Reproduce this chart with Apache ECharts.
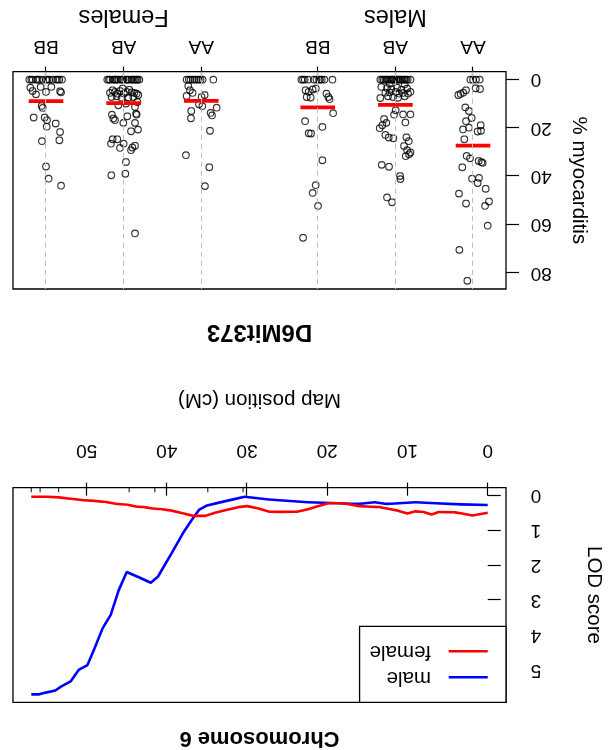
<!DOCTYPE html>
<html><head><meta charset="utf-8">
<script src="https://cdn.jsdelivr.net/npm/echarts@6/dist/echarts.min.js"></script>
<style>
html,body{margin:0;padding:0;background:#fff;overflow:hidden}
#chart{width:613px;height:750px;transform:rotate(180deg);transform-origin:50% 50%;}
</style></head><body><div id="chart"></div>
<script>
// ---------- DATA ----------
const genotypes = ['AA', 'AB', 'BB'];
const sexLabels = ['Males', 'Females'];

// % myocarditis per mouse, and horizontal jitter (in category units) as drawn
const malesAA = [0,0,0,0,3.6,3.9,6.4,5.9,5.4,4.4,11.5,13.0,15.9,17.2,18.9,19.9,20.6,21.5,21.2,24.7,31.6,32.6,33.7,34.2,34.5,36.3,41.0,40.7,42.8,45.2,47.2,51.3,50.5,52.3,60.5,70.5,83.3];
const malesAAJitter = [0.034,-0.086,0,-0.039,-0.034,-0.090,0.189,0.159,0.125,0.090,0.099,0.052,0.017,0.090,-0.099,0.052,0.129,-0.060,-0.103,0.112,0.082,0.039,-0.073,-0.108,-0.125,0.138,0.013,-0.077,-0.060,-0.163,0.181,0.090,-0.206,-0.155,-0.189,0.176,0.073];

const malesAB = [0,0,0,0,0,0,0,0,0,0,0,0,0,0,0,0,0,0,0,0,0,0,
  1.7,1.9,3.0,3.5,3.9,3.3,4.2,3.7,5.1,5.4,5.3,5.1,5.8,5.5,5.8,7.6,6.9,7.2,7.5,6.9,
  12.7,14.5,14.4,14.4,16.3,17.9,17.7,20.1,18.9,22.9,24.0,24.3,23.9,25.5,27.5,29.2,30.9,30.2,31.7,35.3,36.1,39.9,41.2,48.8,50.8];
const malesABJitter = [0.194,0.151,0.116,0.082,0.047,0.013,-0.022,-0.056,-0.090,-0.125,-0.159,-0.194,0.17,0.13,0.10,0.06,0.03,-0.01,-0.04,-0.07,-0.11,-0.14,
  0.073,-0.120,0.181,0.108,0.052,-0.022,-0.077,-0.151,-0.194,0.129,0.073,-0.004,-0.047,-0.099,-0.163,0.194,0.095,0.030,-0.034,-0.120,
  -0.004,0.017,-0.099,-0.194,0.146,0.116,-0.129,0.202,0.168,0.129,0.086,0.026,-0.142,-0.172,-0.112,-0.151,-0.176,-0.194,-0.133,0.176,0.082,-0.060,-0.065,0.108,0.043];

const malesBB = [0,0,0,0,0,0,0,0,0,0,0,
  4.4,5.1,4.1,3.7,7.2,7.4,5.8,7.2,8.1,
  13.9,17.2,19.6,22.2,22.3,33.4,43.7,46.9,52.3,65.5];
const malesBBJitter = [0.211,0.168,0.125,0.017,-0.017,-0.052,-0.086,-0.189,0.19,0.05,-0.03,
  0.157,0.117,0.066,0.025,0.142,0.091,-0.112,-0.137,-0.152,
  -0.198,0.163,-0.060,0.116,0.086,-0.060,0.026,0.065,-0.004,0.189];

const femalesAA = [0,0,0,0,0,0,0,0,0,0,
  2.6,4.4,5.5,6.8,6.4,7.2,10.2,11.0,
  11.6,13.0,13.8,14.8,16.0,21.2,31.3,36.3,44.1];
const femalesAAJitter = [0.189,0.138,0.086,0.034,-0.017,-0.155,0.16,0.11,0.06,0.01,
  0.168,0.146,0.112,0.189,-0.043,-0.004,0.030,-0.013,
  -0.198,0.129,-0.120,-0.138,0.133,-0.112,0.198,-0.103,-0.047];

const femalesAB = [0,0,0,0,0,0,0,0,0,0,0,0,0,0,0,0,0,0,0,0,0,
  5.5,4.4,5.1,5.8,4.7,3.7,5.8,5.1,4.2,5.3,5.5,5.8,6.4,7.2,6.9,7.5,7.5,7.2,9.3,10.6,9.9,11.3,
  14.5,16.1,16.8,15.2,14.1,14.5,17.9,17.9,21.4,20.7,24.7,24.7,26.5,28.3,26.5,29.2,28.1,27.4,34.1,39.0,39.6,63.7];
const femalesABJitter = [0.211,0.176,0.142,0.108,0.073,0.039,0.004,-0.030,-0.065,-0.099,-0.133,-0.168,-0.202,0.19,0.12,0.09,0.02,-0.05,-0.11,-0.15,-0.18,
  0.176,0.142,0.112,0.082,0.047,0.013,-0.004,-0.039,-0.073,-0.103,-0.138,-0.168,-0.189,0.155,0.090,0.026,-0.060,-0.125,-0.176,0.069,-0.030,-0.146,
  0.151,0.133,0.112,-0.047,-0.159,-0.168,0.004,-0.146,-0.095,-0.185,0.142,0.082,0.163,0.047,0,-0.095,-0.112,-0.146,-0.030,-0.022,0.159,-0.146];

const femalesBB = [0,0,0,0,0,0,0,0,0,0,0,0,0,0,0,
  3.3,4.7,6.1,3.0,5.1,3.0,4.8,5.3,10.9,11.7,
  15.7,15.7,16.8,19.5,18.2,21.7,25.1,25.5,36.0,41.0,43.9];
const femalesBBJitter = [0.215,0.172,0.129,0.086,0.043,0,-0.043,-0.086,-0.129,-0.172,-0.206,0.19,0.11,-0.02,-0.15,
  0.202,0.172,0.129,0.069,0,-0.069,-0.181,-0.194,0.056,0.043,
  0.159,0.017,-0.013,-0.009,-0.125,-0.181,-0.172,0.052,0,-0.034,-0.194];

// group means (red bars): Males AA, AB, BB, Females AA, AB, BB
const groupMeans = [27.3, 10.4, 11.5, 8.8, 9.7, 8.9];

// LOD curves, chromosome 6
const femalePos = [0,1.9,3.2,4.1,6.1,7.0,8.0,9.0,10.0,11.2,12.1,13.4,14.6,16.0,18.0,19.9,21.4,22.4,23.8,25.8,27.2,28.7,30.0,31.1,32.6,34.0,35.2,36.7,37.9,39.4,40.6,41.8,42.8,43.7,44.9,46.2,47.6,49.1,50.3,52.0,53.5,54.9,56.9];
const femaleLOD = [0.49,0.57,0.51,0.48,0.47,0.54,0.47,0.45,0.51,0.43,0.39,0.33,0.32,0.30,0.22,0.22,0.32,0.39,0.46,0.47,0.46,0.36,0.30,0.33,0.41,0.49,0.58,0.58,0.51,0.43,0.39,0.37,0.33,0.32,0.26,0.24,0.18,0.15,0.13,0.09,0.05,0.03,0.03];
const malePos = [0,3.4,6.5,9.0,12.6,14.1,16.2,18.6,22.4,27.3,30.3,31.6,33.5,35.1,36.0,36.9,38.0,39.4,41.1,42.0,43.5,45.0,46.0,47.0,48.0,49.1,49.9,51.0,52.0,53.2,53.9,55.1,55.9,56.9];
const maleLOD = [0.27,0.25,0.22,0.19,0.24,0.19,0.24,0.22,0.19,0.11,0.03,0.10,0.20,0.29,0.41,0.70,1.08,1.65,2.32,2.50,2.34,2.19,2.71,3.42,3.80,4.43,4.86,5.00,5.33,5.48,5.59,5.65,5.70,5.70];
const markerPos = [30.5, 34.9, 41.5, 44.7, 53.5, 55.8, 56.9];

const lodXTicks = [0, 10, 20, 30, 40, 50];
const lodYTicks = [0, 1, 2, 3, 4, 5];
const phenoYTicks = [0, 20, 40, 60, 80];

// ---------- BUILD ----------
const groupValues = [malesAA, malesAB, malesBB, femalesAA, femalesAB, femalesBB];
const groupJitter = [malesAAJitter, malesABJitter, malesBBJitter, femalesAAJitter, femalesABJitter, femalesBBJitter];
const slots = [1, 2, 3, 4.5, 5.5, 6.5];
const sexSlots = [2, 5.5];
const slotLabel = {};
slots.forEach((s, i) => slotLabel[s] = genotypes[i % 3]);
const sexLabel = {};
sexSlots.forEach((s, i) => sexLabel[s] = sexLabels[i]);

const pts = [];
groupValues.forEach((vals, g) => vals.forEach((v, i) => pts.push([slots[g] + groupJitter[g][i], v])));

const lodYMin = -0.228, lodYMax = 5.928;
const font = "'Liberation Sans', Arial, Helvetica, sans-serif";
const tickStyle = {color: '#000', width: 1.2};
const labelBase = {color: '#000', fontSize: 19, fontFamily: font};

const meanSeries = groupMeans.map((m, g) => ({
  type: 'line', xAxisIndex: 1, yAxisIndex: 1, symbol: 'none', silent: true, z: 4,
  lineStyle: {color: '#ff0000', width: 3.8},
  data: [[slots[g] - 0.223, m], [slots[g] + 0.223, m]]
}));

const chart = echarts.init(document.getElementById('chart'), null, {renderer: 'canvas'});
chart.setOption({
  animation: false,
  backgroundColor: '#fff',
  textStyle: {fontFamily: font},
  grid: [
    {left: 107, right: 13, top: 47.7, height: 214.6, show: true, borderColor: '#000', borderWidth: 1.3, backgroundColor: 'rgba(0,0,0,0)'},
    {left: 107, right: 13, top: 461, height: 217.3, show: true, borderColor: '#000', borderWidth: 1.3, backgroundColor: 'rgba(0,0,0,0)'}
  ],
  xAxis: [
    {gridIndex: 0, type: 'value', min: -2.28, max: 59.18, position: 'bottom',
      axisLine: {show: false}, splitLine: {show: false},
      axisTick: {show: true, length: 13, lineStyle: tickStyle, customValues: lodXTicks},
      axisLabel: Object.assign({customValues: lodXTicks, margin: 28}, labelBase),
      name: 'Map position (cM)', nameLocation: 'middle', nameGap: 78,
      nameTextStyle: {color: '#000', fontSize: 20.5, fontFamily: font}},
    {gridIndex: 1, type: 'value', min: 0.575, max: 6.925, position: 'bottom',
      axisLine: {show: false}, splitLine: {show: false},
      axisTick: {show: true, length: 13, lineStyle: tickStyle, customValues: slots},
      axisLabel: Object.assign({customValues: slots, margin: 16, formatter: v => slotLabel[v] || ''}, labelBase)},
    {gridIndex: 1, type: 'value', min: 0.575, max: 6.925, position: 'bottom',
      axisLine: {show: false}, splitLine: {show: false}, axisTick: {show: false},
      axisLabel: {customValues: sexSlots, margin: 43, color: '#000', fontSize: 23.5, fontFamily: font, formatter: v => sexLabel[v] || ''}}
  ],
  yAxis: [
    {gridIndex: 0, type: 'value', min: lodYMin, max: lodYMax, position: 'left',
      axisLine: {show: false}, splitLine: {show: false},
      axisTick: {show: true, length: 13, lineStyle: tickStyle, customValues: lodYTicks},
      axisLabel: Object.assign({customValues: lodYTicks, margin: 24.6}, labelBase),
      name: 'LOD score', nameLocation: 'middle', nameGap: 77,
      nameTextStyle: {color: '#000', fontSize: 20.5, fontFamily: font}},
    {gridIndex: 1, type: 'value', min: -3.3, max: 86.7, position: 'left',
      axisLine: {show: false}, splitLine: {show: false},
      axisTick: {show: true, length: 13, lineStyle: tickStyle, customValues: phenoYTicks},
      axisLabel: Object.assign({customValues: phenoYTicks, margin: 24.6}, labelBase),
      name: '% myocarditis', nameLocation: 'middle', nameGap: 62,
      nameTextStyle: {color: '#000', fontSize: 20.5, fontFamily: font}}
  ],
  legend: {
    data: [{name: 'male', icon: 'rect'}, {name: 'female', icon: 'rect'}],
    orient: 'vertical', left: 107, top: 47.7,
    padding: [14.6, 10, 14.4, 18.3], itemGap: 5, itemWidth: 39, itemHeight: 2.6,
    borderColor: '#000', borderWidth: 1.3, backgroundColor: '#fff',
    textStyle: {color: '#000', fontSize: 20.5, fontFamily: font, padding: [0, 0, 0, 12.6]}
  },
  graphic: [
    {type: 'text', x: 353.5, y: 12, style: {text: 'Chromosome 6', fill: '#000', fontSize: 22, fontWeight: 'bold', fontFamily: font, align: 'center', verticalAlign: 'middle'}},
    {type: 'text', x: 353.5, y: 418.3, style: {text: 'D6Mit373', fill: '#000', fontSize: 24, fontWeight: 'bold', fontFamily: font, align: 'center', verticalAlign: 'middle'}}
  ],
  series: [
    {name: 'male', type: 'line', xAxisIndex: 0, yAxisIndex: 0, symbol: 'none', z: 3,
      color: '#0000ff', itemStyle: {color: '#0000ff'}, lineStyle: {color: '#0000ff', width: 2.6},
      data: malePos.map((p, i) => [p, maleLOD[i]])},
    {name: 'female', type: 'line', xAxisIndex: 0, yAxisIndex: 0, symbol: 'none', z: 3,
      color: '#ff0000', itemStyle: {color: '#ff0000'}, lineStyle: {color: '#ff0000', width: 2.6},
      data: femalePos.map((p, i) => [p, femaleLOD[i]])},
    {type: 'scatter', xAxisIndex: 0, yAxisIndex: 0, symbol: 'rect', symbolSize: [1.2, 4.5],
      symbolOffset: [0, -2.25], clip: false, silent: true, itemStyle: {color: '#000'},
      data: markerPos.map(p => [p, lodYMin])},
    {type: 'scatter', xAxisIndex: 1, yAxisIndex: 1, data: [], silent: true, z: 1,
      markLine: {silent: true, symbol: ['none', 'none'], label: {show: false},
        lineStyle: {color: '#bdbdbd', width: 1, type: [5, 4]},
        data: slots.map(s => ({xAxis: s}))}},
    {type: 'scatter', xAxisIndex: 1, yAxisIndex: 1, symbol: 'circle', symbolSize: 6.6, silent: true, z: 2,
      itemStyle: {color: 'rgba(0,0,0,0)', borderColor: '#000', borderWidth: 1.15},
      data: pts}
  ].concat(meanSeries)
});
</script></body></html>
